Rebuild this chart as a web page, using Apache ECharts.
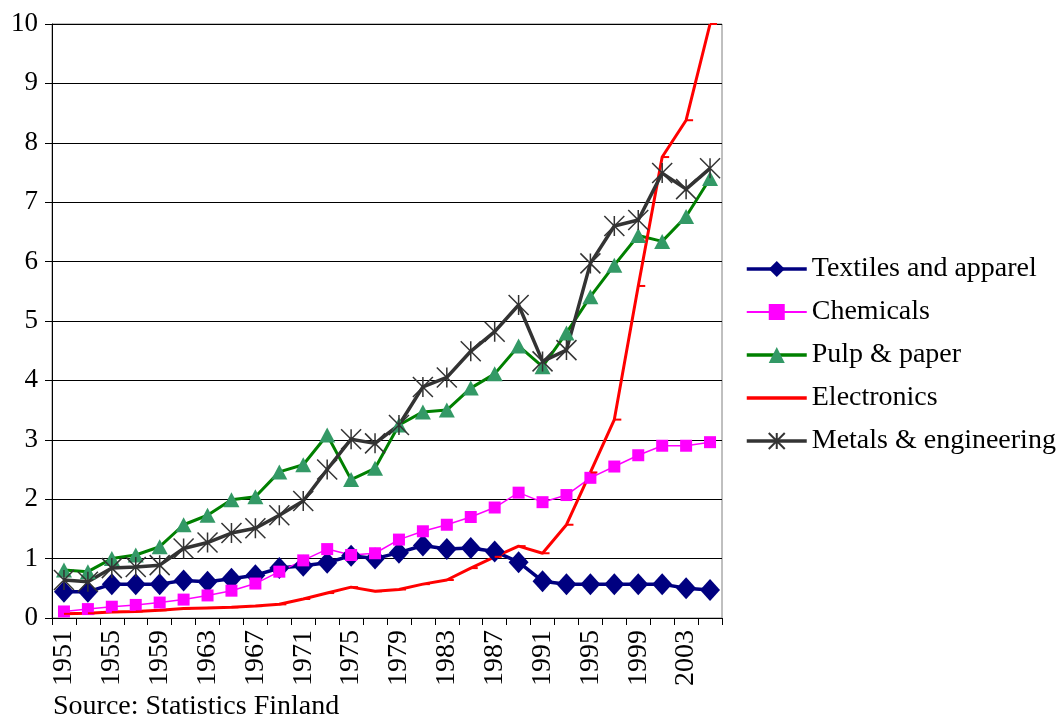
<!DOCTYPE html>
<html>
	<head>
		<meta charset="UTF-8">
		<title>Finnish industry output</title>
		<style>
			body{margin:0;background:#fff;}
		</style>
	</head>
	<body>
		<div id='line' style="width:1063px;height:719px;"></div>
	</body>
	<script type="text/javascript" src="https://cdn.jsdelivr.net/npm/echarts@6/dist/echarts.min.js"></script>
	<script>
		// years, every second year 1951-2005
		var years=['1951','1953','1955','1957','1959','1961','1963','1965','1967','1969',
			'1971','1973','1975','1977','1979','1981','1983','1985','1987','1989',
			'1991','1993','1995','1997','1999','2001','2003','2005'];
		var yTicks=[0,1,2,3,4,5,6,7,8,9,10];

		var textiles=[0.44,0.44,0.57,0.57,0.57,0.63,0.61,0.66,0.72,0.84,
			0.88,0.93,1.05,1.00,1.10,1.22,1.16,1.18,1.12,0.94,
			0.62,0.57,0.57,0.57,0.57,0.57,0.50,0.47];
		var chemicals=[0.11,0.15,0.19,0.22,0.26,0.31,0.38,0.46,0.58,0.78,
			0.97,1.16,1.06,1.09,1.32,1.46,1.57,1.70,1.86,2.11,
			1.95,2.07,2.36,2.55,2.74,2.90,2.90,2.96];
		var pulp=[0.81,0.78,1.00,1.06,1.20,1.57,1.73,1.99,2.04,2.46,
			2.58,3.08,2.33,2.52,3.25,3.47,3.50,3.87,4.11,4.58,
			4.23,4.80,5.41,5.94,6.44,6.34,6.76,7.40];
		var electronics=[0.07,0.08,0.10,0.11,0.13,0.16,0.17,0.18,0.20,0.23,
			0.32,0.42,0.52,0.45,0.48,0.57,0.64,0.84,1.03,1.21,
			1.09,1.57,2.45,3.34,5.59,7.76,8.38,10.0];
		var metals=[0.64,0.61,0.84,0.86,0.89,1.17,1.27,1.43,1.51,1.73,
			1.97,2.50,3.01,2.94,3.25,3.89,4.05,4.49,4.82,5.27,
			4.32,4.51,5.97,6.60,6.70,7.49,7.22,7.57];

		var FONT='Liberation Serif';
		var asterisk='path://M10 0 L10 20 M0 0 L20 20 M20 0 L0 20';
		// small dash to the right of the point (the empty moves keep the box square)
		var dash='path://M0 0 M20 20 M10 9 L17 9 L17 11 L10 11 Z';

		function chart(id){
			var line=echarts.init(document.getElementById(id));
			var option={
				animation:false,
				textStyle:{fontFamily:FONT},
				title:{
					text:'Source: Statistics Finland',
					left:48,
					top:688,
					textStyle:{fontFamily:FONT,fontSize:28,fontWeight:'normal',color:'#000'}
				},
				grid:{
					left:52,right:341,top:24,bottom:101,
					show:true,
					borderColor:'#808080',
					borderWidth:1
				},
				legend:{
					orient:'vertical',
					left:745,
					top:255,
					padding:0,
					itemWidth:60,
					itemHeight:20,
					itemGap:15,
					lineStyle:{width:3.5},
					textStyle:{fontFamily:FONT,fontSize:28,color:'#000'},
					data:[
						'Textiles and apparel',
						{name:'Chemicals',lineStyle:{width:2}},
						'Pulp & paper',
						'Electronics',
						'Metals & engineering'
					]
				},
				xAxis:{
					type:'category',
					data:years,
					boundaryGap:true,
					axisLine:{lineStyle:{color:'#000',width:1}},
					axisTick:{show:true,length:7,interval:0,lineStyle:{color:'#000'}},
					axisLabel:{
						interval:1,
						rotate:90,
						margin:12,
						fontSize:28,
						color:'#000',
						fontFamily:FONT
					},
					splitLine:{show:false}
				},
				yAxis:{
					type:'value',
					min:yTicks[0],
					max:yTicks[yTicks.length-1],
					interval:1,
					axisLine:{show:true,lineStyle:{color:'#000',width:1}},
					axisTick:{show:true,length:7,lineStyle:{color:'#000'}},
					axisLabel:{fontSize:27,color:'#000',margin:14,fontFamily:FONT},
					splitLine:{show:true,lineStyle:{color:'#000',width:1}}
				},
				series:[
					{
						name:'Textiles and apparel',
						type:'line',
						data:textiles,
						showAllSymbol:true,
						symbol:'diamond',
						symbolSize:[20,22],
						lineStyle:{color:'#000080',width:3.5},
						itemStyle:{color:'#000080'}
					},
					{
						name:'Chemicals',
						type:'line',
						data:chemicals,
						showAllSymbol:true,
						symbol:'rect',
						symbolSize:12,
						lineStyle:{color:'#FF00FF',width:1.5},
						itemStyle:{color:'#FF00FF'}
					},
					{
						name:'Pulp & paper',
						type:'line',
						data:pulp,
						showAllSymbol:true,
						symbol:'triangle',
						symbolSize:[16,15],
						lineStyle:{color:'#008000',width:3},
						itemStyle:{color:'#339966'}
					},
					{
						name:'Electronics',
						type:'line',
						data:electronics,
						showAllSymbol:true,
						symbol:dash,
						symbolSize:20,
						lineStyle:{color:'#FF0000',width:3},
						itemStyle:{color:'#FF0000'}
					},
					{
						name:'Metals & engineering',
						type:'line',
						data:metals,
						showAllSymbol:true,
						symbol:asterisk,
						symbolSize:20,
						lineStyle:{color:'#333333',width:3.5},
						itemStyle:{color:'#333333',borderColor:'#333333',borderWidth:1.5}
					}
				]
			};
			line.setOption(option);
		}

		chart('line');
	</script>
</html>
